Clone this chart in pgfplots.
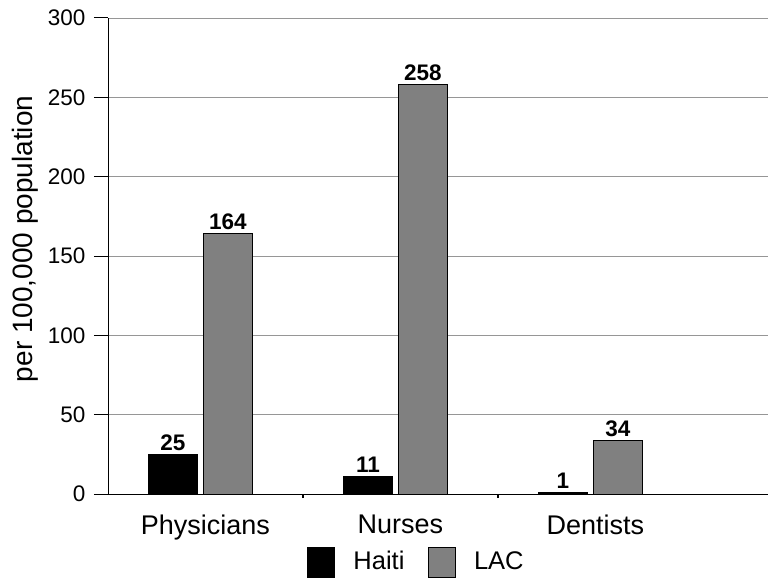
\documentclass[border=0pt]{standalone}
\usepackage{pgfplots}
\pgfplotsset{compat=1.18}
\usepackage{fontspec}
\setmainfont{Liberation Sans}
\definecolor{lacgray}{RGB}{128,128,128}
\definecolor{gridgray}{RGB}{150,150,150}
\begin{document}
\begin{tikzpicture}
\useasboundingbox (0,0) rectangle (768bp,578bp);
\begin{axis}[
  at={(108bp,84bp)}, anchor=south west,
  scale only axis, width=660bp, height=476bp,
  xmin=-0.5, xmax=2.885, ymin=0, ymax=300,
  axis x line*=bottom, axis y line*=left,
  axis line style={black, line width=1pt},
  ytick={0,50,...,300},
  ymajorgrids, grid style={gridgray, line width=0.9pt},
  xtick={0,1,2}, xticklabels={Physicians,Nurses,Dentists},
  x tick label style={font=\fontsize{27bp}{31bp}\selectfont, yshift=-3bp},
  y tick label style={font=\fontsize{22.5bp}{26bp}\selectfont, xshift=-5bp},
  /pgf/number format/assume math mode=true,
  tick align=outside,
  xtick style={draw=none},
  ytick style={black, line width=1pt},
  major tick length=14bp,
  extra x ticks={0.5,1.5}, extra x tick labels={},
  extra x tick style={xtick style={black, line width=2pt, draw=black}, major tick length=4bp},
  ylabel={per 100,000 population},
  ylabel style={at={(axis description cs:-0.1258,0.536)}, anchor=center, font=\fontsize{28bp}{32bp}\selectfont},
  ybar, bar width=0.251,
  nodes near coords,
  every node near coord/.append style={font=\bfseries\fontsize{22.5bp}{26bp}\selectfont, black},
  legend columns=2,
  legend style={at={(0.467,-0.1429)}, anchor=center, draw=none, fill=none,
    font=\fontsize{25.5bp}{30bp}\selectfont,
    /tikz/every odd column/.append style={column sep=0bp},
    /tikz/every even column/.append style={column sep=22bp},
    inner sep=0pt},
  legend image code/.code={\path[#1] (0bp,-16bp) rectangle (27bp,14bp);},
]
\addplot[fill=black, draw=black, line width=0.6pt, bar shift=-0.167] coordinates {(0,25) (1,11) (2,1)};
\addplot[fill=lacgray, draw=black, line width=0.6pt, bar shift=0.115] coordinates {(0,164) (1,258) (2,34)};
\legend{\hspace{17bp}Haiti, \hspace{16bp}LAC}
\end{axis}
\end{tikzpicture}
\end{document}
